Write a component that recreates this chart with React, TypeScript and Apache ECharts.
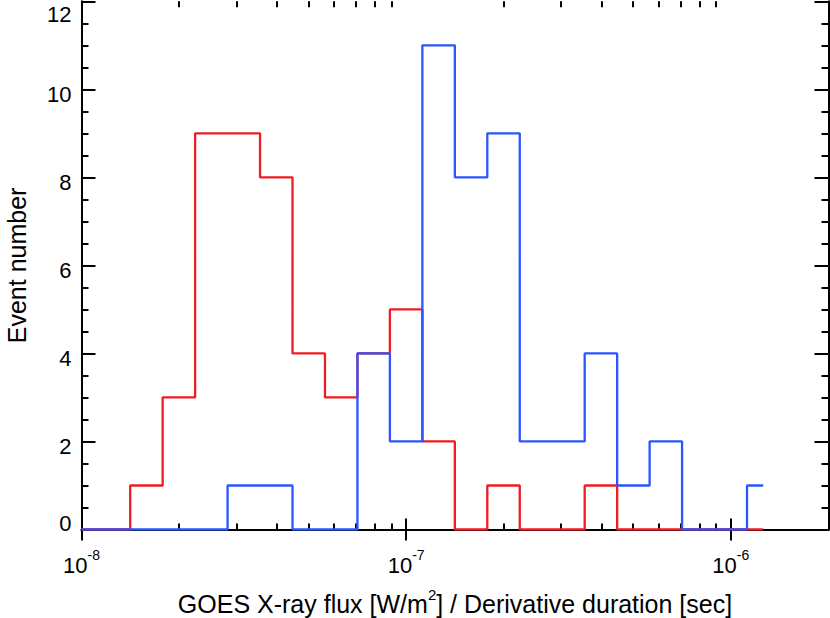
import React, { useEffect, useRef } from 'react';
import * as echarts from 'echarts';

// Bin centres (log10 spacing 0.1 dex)
const binCenters = [
  1.0e-8, 1.259e-8, 1.585e-8, 1.995e-8, 2.512e-8, 3.162e-8, 3.981e-8, 5.012e-8,
  6.31e-8, 7.943e-8, 1.0e-7, 1.259e-7, 1.585e-7, 1.995e-7, 2.512e-7, 3.162e-7,
  3.981e-7, 5.012e-7, 6.31e-7, 7.943e-7, 1.0e-6, 1.259e-6,
];
const redCounts = [0, 0, 1, 3, 9, 9, 8, 4, 3, 4, 5, 2, 0, 1, 0, 0, 1, 0, 0, 0, 0, 0];
const blueCounts = [0, 0, 0, 0, 0, 1, 1, 0, 0, 4, 2, 11, 8, 9, 2, 2, 4, 1, 2, 0, 0, 1];

const xMin = 1e-8;
const xMax = 2e-6;
const majorXTicks = [1e-8, 1e-7, 1e-6];
const minorXTicks = [
  2e-8, 3e-8, 4e-8, 5e-8, 6e-8, 7e-8, 8e-8, 9e-8,
  2e-7, 3e-7, 4e-7, 5e-7, 6e-7, 7e-7, 8e-7, 9e-7,
];
const yMin = 0;
const yMax = 12;
const yInterval = 2;

const xName = 'GOES X-ray flux [W/m{s|2}] / Derivative duration [sec]';
const yName = 'Event number';

const FONT = 'Liberation Sans';
const RED = '#ee1c23';
const BLUE = '#2a55ff';

export default function App() {
  const ref = useRef<HTMLDivElement>(null);

  useEffect(() => {
    document.body.style.margin = '0';
    if (!ref.current) return;
    const chart = echarts.init(ref.current, undefined, { renderer: 'svg' });

    const toPairs = (vals: number[]) => binCenters.map((x, i) => [x, vals[i]]);

    const baseX = {
      type: 'log' as const,
      logBase: 10,
      min: xMin,
      max: xMax,
      gridIndex: 0,
      splitLine: { show: false },
      minorTick: { show: false },
      minorSplitLine: { show: false },
    };

    const option: any = {
      animation: false,
      backgroundColor: '#ffffff',
      textStyle: { fontFamily: FONT },
      grid: { left: 81.5, right: 1.5, top: 1.3, bottom: 88.5, containLabel: false, outerBoundsMode: 'none' },
      xAxis: [
        {
          ...baseX,
          position: 'bottom',
          axisLine: { show: true, lineStyle: { color: '#000', width: 2 } },
          axisTick: { show: true, inside: true, length: 11, customValues: majorXTicks, lineStyle: { color: '#000', width: 2 } },
          axisLabel: {
            show: true,
            customValues: majorXTicks,
            margin: 18.5,
            formatter: (v: number) => `{b|10}{e|${Math.round(Math.log10(v))}}`,
            rich: {
              b: { fontSize: 22, lineHeight: 34, fontFamily: FONT, color: '#000' },
              e: { fontSize: 14, lineHeight: 14, verticalAlign: 'top', fontFamily: FONT, color: '#000' },
            },
          },
          name: `{a|${xName.replace('{s|2}', '}{s|2}{a|')}}`,
          nameLocation: 'middle',
          nameGap: 57.5,
          nameTextStyle: {
            rich: {
              a: { fontSize: 25, lineHeight: 34, fontFamily: FONT, color: '#000' },
              s: { fontSize: 15, lineHeight: 15, verticalAlign: 'top', fontFamily: FONT, color: '#000' },
            },
          },
        },
        {
          ...baseX,
          position: 'top',
          axisLine: { show: true, lineStyle: { color: '#000', width: 2 } },
          axisTick: { show: true, inside: true, length: 11, customValues: majorXTicks, lineStyle: { color: '#000', width: 2 } },
          axisLabel: { show: false },
        },
        {
          ...baseX,
          position: 'bottom',
          axisLine: { show: false },
          axisTick: { show: true, inside: true, length: 6, customValues: minorXTicks, lineStyle: { color: '#000', width: 2 } },
          axisLabel: { show: false },
        },
        {
          ...baseX,
          position: 'top',
          axisLine: { show: false },
          axisTick: { show: true, inside: true, length: 6, customValues: minorXTicks, lineStyle: { color: '#000', width: 2 } },
          axisLabel: { show: false },
        },
      ],
      yAxis: [
        {
          type: 'value',
          position: 'left',
          min: yMin,
          max: yMax,
          interval: yInterval,
          splitLine: { show: false },
          axisLine: { show: true, lineStyle: { color: '#000', width: 2 } },
          axisTick: { show: true, inside: true, length: 14, lineStyle: { color: '#000', width: 2 } },
          minorTick: { show: true, splitNumber: 4, length: 7, lineStyle: { color: '#000', width: 2 } },
          axisLabel: {
            margin: 10,
            formatter: (v: number) => (v === yMin ? `{z|${v}}` : v === yMax ? `{t|${v}}` : `{n|${v}}`),
            rich: {
              n: { fontSize: 22, padding: [10, 0, 0, 0], fontFamily: FONT, color: '#000' },
              z: { fontSize: 22, padding: [0, 0, 13, 0], fontFamily: FONT, color: '#000' },
              t: { fontSize: 22, padding: [26, 0, 0, 0], fontFamily: FONT, color: '#000' },
            },
          },
          name: yName,
          nameLocation: 'middle',
          nameGap: 52,
          nameTextStyle: { fontSize: 25, fontFamily: FONT, color: '#000' },
        },
        {
          type: 'value',
          position: 'right',
          min: yMin,
          max: yMax,
          interval: yInterval,
          splitLine: { show: false },
          axisLine: { show: true, lineStyle: { color: '#000', width: 2 } },
          axisTick: { show: true, inside: true, length: 14, lineStyle: { color: '#000', width: 2 } },
          minorTick: { show: true, splitNumber: 4, length: 7, lineStyle: { color: '#000', width: 2 } },
          axisLabel: { show: false },
        },
      ],
      series: [
        {
          type: 'line',
          name: 'red',
          xAxisIndex: 0,
          yAxisIndex: 0,
          step: 'middle',
          showSymbol: false,
          symbol: 'none',
          data: toPairs(redCounts),
          lineStyle: { color: RED, width: 2.3 },
          itemStyle: { color: RED },
        },
        {
          type: 'line',
          name: 'blue',
          xAxisIndex: 0,
          yAxisIndex: 0,
          step: 'middle',
          showSymbol: false,
          symbol: 'none',
          data: toPairs(blueCounts),
          lineStyle: { color: BLUE, width: 2.3 },
          itemStyle: { color: BLUE },
        },
      ],
    };

    chart.setOption(option);
    return () => chart.dispose();
  }, []);

  return <div ref={ref} style={{ width: 830, height: 618 }} />;
}
